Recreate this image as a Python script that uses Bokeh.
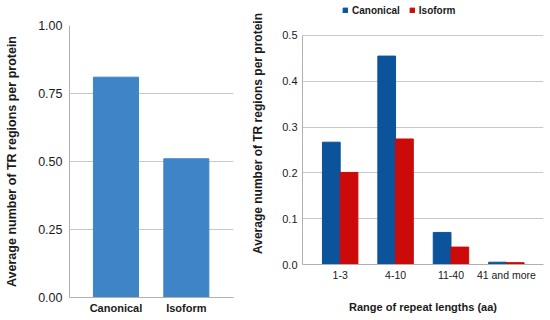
from bokeh.plotting import figure
from bokeh.models import Range1d, FixedTicker, ColumnDataSource, Legend, LegendItem, NumeralTickFormatter
from bokeh.layouts import row, column
from bokeh.transform import dodge
from bokeh.embed import file_html
from bokeh.resources import INLINE

# ---- data ----
left_categories = ["Canonical", "Isoform"]
left_values = [0.81, 0.51]

ranges = ["1-3", "4-10", "11-40", "41 and more"]
canonical = [0.267, 0.455, 0.070, 0.005]
isoform = [0.201, 0.274, 0.038, 0.004]

left_ticks = [0, 0.25, 0.5, 0.75, 1.0]
right_ticks = [0, 0.1, 0.2, 0.3, 0.4, 0.5]

FONT = "Liberation Sans"
TXT = "#1a1a1a"
GRID = "#c8c8c8"
AXIS = "#b0b0b0"


def style(p):
    p.outline_line_color = None
    p.xgrid.grid_line_color = None
    p.ygrid.grid_line_color = GRID
    p.background_fill_color = "white"
    p.border_fill_color = "white"
    for ax in (p.xaxis[0], p.yaxis[0]):
        ax.axis_line_color = AXIS
        ax.major_tick_line_color = None
        ax.minor_tick_line_color = None
        ax.major_tick_out = 0
        ax.major_tick_in = 0
        ax.major_label_text_font = FONT
        ax.axis_label_text_font = FONT
        ax.major_label_text_color = TXT
        ax.axis_label_text_color = TXT
        ax.axis_label_text_font_style = "bold"


# ---- left chart ----
lsrc = ColumnDataSource(dict(x=list(range(len(left_categories))), v=left_values))
p1 = figure(width=247, height=320, output_backend="svg", toolbar_location=None,
            x_range=Range1d(-0.66, 1.67), y_range=Range1d(0, 1),
            min_border_left=69, min_border_right=14, min_border_top=25, min_border_bottom=23)
p1.vbar(x="x", top="v", width=0.64, source=lsrc, color="#3d85c6")
style(p1)
p1.xaxis.ticker = FixedTicker(ticks=list(range(len(left_categories))))
p1.xaxis.major_label_overrides = {i: c for i, c in enumerate(left_categories)}
p1.xaxis.major_label_text_font_size = "11px"
p1.xaxis.major_label_text_font_style = "bold"
p1.xaxis.major_label_standoff = 4
p1.yaxis.ticker = FixedTicker(ticks=left_ticks)
p1.yaxis.formatter = NumeralTickFormatter(format="0.00")
p1.yaxis.major_label_text_font_size = "12.5px"
p1.yaxis.major_label_standoff = 7
p1.yaxis.axis_label = "Average number of TR regions per protein"
p1.yaxis.axis_label_text_font_size = "12.5px"
p1.yaxis.axis_label_standoff = 16

# ---- right chart (frame extends above 0.5 to host the legend) ----
rsrc = ColumnDataSource(dict(x=list(range(len(ranges))), c=canonical, i=isoform))
p2 = figure(width=303, height=320, output_backend="svg", toolbar_location=None,
            x_range=Range1d(-0.68, 3.67), y_range=Range1d(0, 0.572),
            min_border_left=55, min_border_right=7, min_border_top=2, min_border_bottom=56)
rc = p2.vbar(x=dodge("x", -0.16, range=p2.x_range), top="c", width=0.32, source=rsrc, color="#0b539a")
ri = p2.vbar(x=dodge("x", 0.16, range=p2.x_range), top="i", width=0.32, source=rsrc, color="#cc0a0a")
style(p2)
p2.xaxis.ticker = FixedTicker(ticks=list(range(len(ranges))))
p2.xaxis.major_label_overrides = {i: r for i, r in enumerate(ranges)}
p2.xaxis.major_label_text_font_size = "10.5px"
p2.xaxis.major_label_standoff = 4
p2.xaxis.axis_label = "Range of repeat lengths (aa)"
p2.xaxis.axis_label_text_font_size = "11px"
p2.xaxis.axis_label_standoff = 17
p2.yaxis.ticker = FixedTicker(ticks=right_ticks)
p2.yaxis.bounds = (right_ticks[0], right_ticks[-1])
p2.yaxis.formatter = NumeralTickFormatter(format="0.0")
p2.yaxis.major_label_text_font_size = "11px"
p2.yaxis.major_label_standoff = 5
p2.yaxis.axis_label = "Average number of TR regions per protein"
p2.yaxis.axis_label_text_font_size = "12px"
p2.yaxis.axis_label_standoff = 14

legend = Legend(items=[LegendItem(label="Canonical", renderers=[rc]),
                       LegendItem(label="Isoform", renderers=[ri])],
                orientation="horizontal", location=(40, 248),
                glyph_width=6, glyph_height=6, label_height=12, label_standoff=4,
                spacing=9, padding=0, margin=0, border_line_color=None,
                background_fill_alpha=0,
                label_text_font=FONT, label_text_font_size="10px",
                label_text_font_style="bold", label_text_color=TXT)
p2.add_layout(legend, "center")

layout = row(column(p1), column(p2))
open("out.html", "w").write(file_html(layout, INLINE))
